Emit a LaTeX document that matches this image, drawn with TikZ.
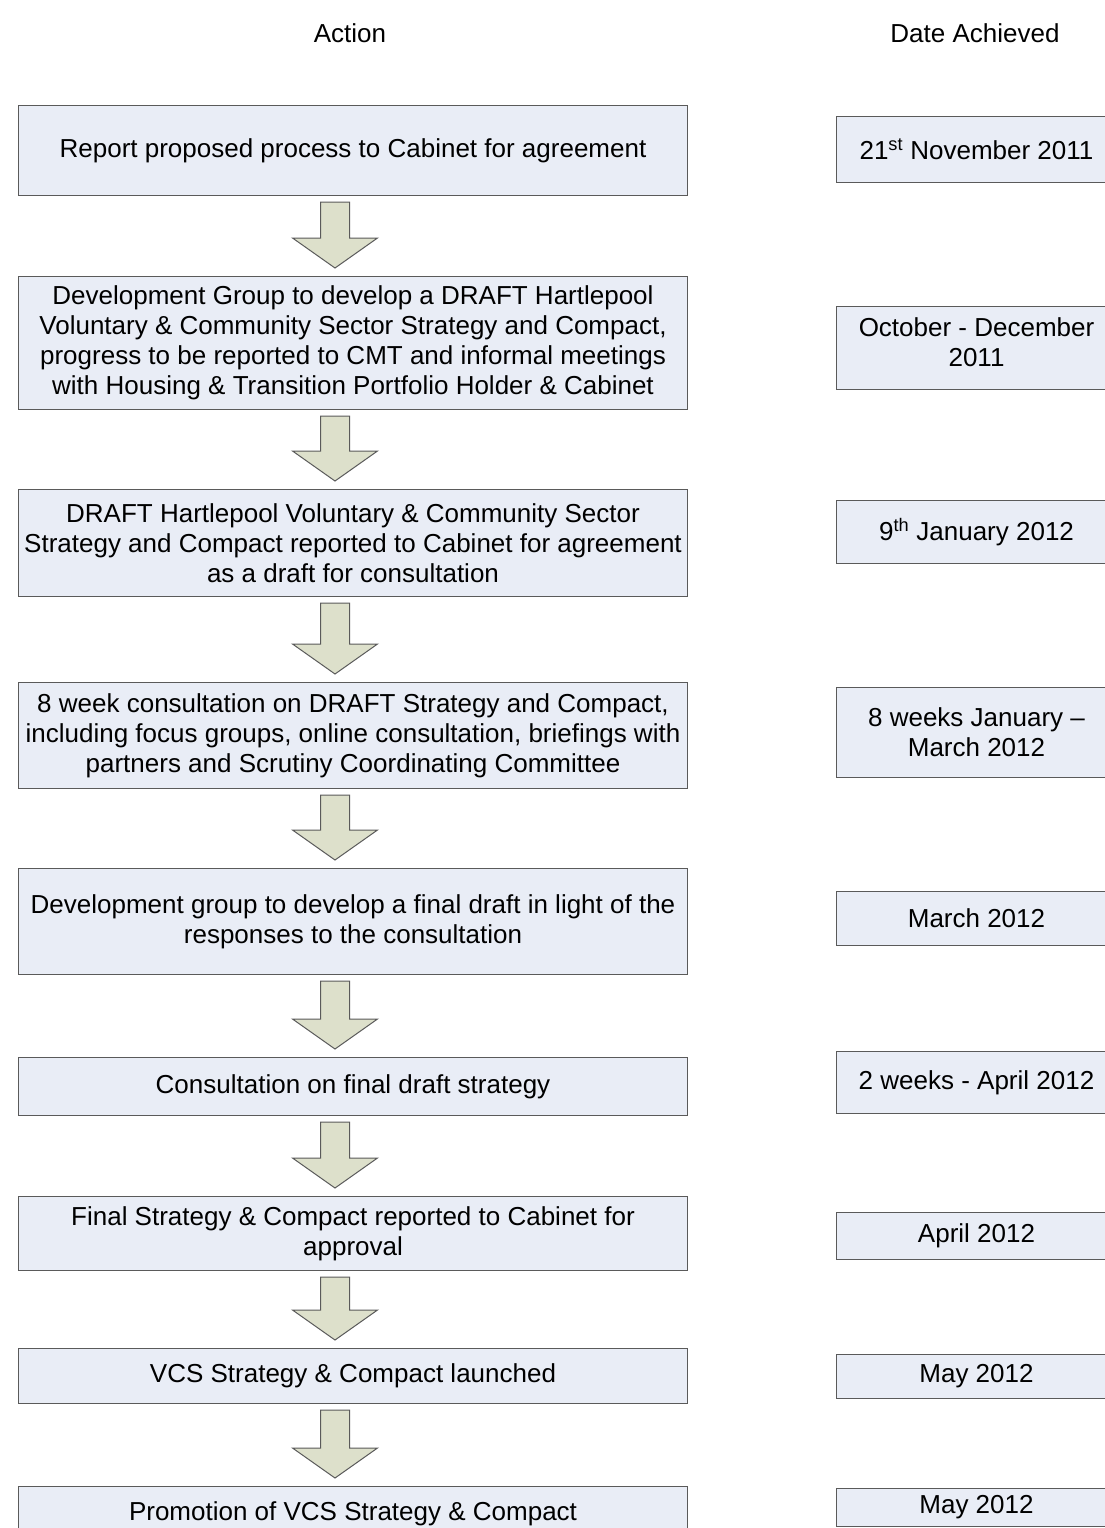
\documentclass[tikz,border=0pt]{standalone}
\usepackage{fontspec}
\setmainfont{Liberation Sans}
\usetikzlibrary{calc}
\definecolor{boxfill}{HTML}{E9EDF6}
\definecolor{arrowfill}{HTML}{DDE0CB}
\definecolor{edge}{HTML}{5A5A5A}
\tikzset{
  lbox/.style={draw=edge, line width=1pt, fill=boxfill, anchor=north west, minimum width=669pt,
    align=center, inner sep=0pt, font=\fontsize{26}{30}\selectfont},
  rbox/.style={draw=edge, line width=1pt, fill=boxfill, anchor=north west, minimum width=280pt,
    align=center, inner sep=0pt, font=\fontsize{26}{30}\selectfont},
  hdr/.style={font=\fontsize{26}{30}\selectfont, inner sep=0pt},
  barrow/.style={draw=edge, line width=1pt, fill=arrowfill, line join=miter}
}
\newcommand\blockarrow[2]{%
  \draw[barrow] ($(#1.south)+(-32.5,6)$) -- ($(#1.south)+(-3.5,6)$)
    -- ($(#2.north)+(-3.5,-38)$) -- ($(#2.north)+(24.5,-38)$)
    -- ($(#2.north)+(-18,-8)$) -- ($(#2.north)+(-60.5,-38)$)
    -- ($(#2.north)+(-32.5,-38)$) -- cycle;}
\begin{document}
\begin{tikzpicture}[x=1pt,y=-1pt]
\useasboundingbox (0,0) rectangle (1104,1528);
\node[hdr] (hA) at (350,33) {Action};
\node[hdr] (hD) at (975,33) {Date Achieved};
% left boxes
\node[lbox, minimum height=90pt] (a1) at (18,105) {Report proposed process to Cabinet for agreement};
\node[lbox, minimum height=133pt] (a2) at (18,276) {Development Group to develop a DRAFT Hartlepool\\Voluntary \& Community Sector Strategy and Compact,\\progress to be reported to CMT and informal meetings\\with Housing \& Transition Portfolio Holder \& Cabinet};
\node[lbox, minimum height=107pt] (a3) at (18,489) {DRAFT Hartlepool Voluntary \& Community Sector\\Strategy and Compact reported to Cabinet for agreement\\as a draft for consultation};
\node[lbox, minimum height=106pt] (a4) at (18,682) {8 week consultation on DRAFT Strategy and Compact,\\including focus groups, online consultation, briefings with\\partners and Scrutiny Coordinating Committee};
\node[lbox, minimum height=106pt] (a5) at (18,868) {Development group to develop a final draft in light of the\\responses to the consultation};
\node[lbox, minimum height=58pt] (a6) at (18,1057) {Consultation on final draft strategy};
\node[lbox, minimum height=74pt] (a7) at (18,1196) {Final Strategy \& Compact reported to Cabinet for\\approval};
\node[lbox, minimum height=55pt] (a8) at (18,1348) {VCS Strategy \& Compact launched};
\node[lbox, minimum height=54pt] (a9) at (18,1486) {Promotion of VCS Strategy \& Compact};
% right boxes
\node[rbox, minimum height=66pt] (d1) at (836,116) {21\textsuperscript{st} November 2011};
\node[rbox, minimum height=83pt, text depth=11pt] (d2) at (836,306) {October - December\\2011};
\node[rbox, minimum height=63pt] (d3) at (836,500) {9\textsuperscript{th} January 2012};
\node[rbox, minimum height=90pt] (d4) at (836,687) {8 weeks January –\\March 2012};
\node[rbox, minimum height=54pt] (d5) at (836,891) {March 2012};
\node[rbox, minimum height=62pt] (d6) at (836,1051) {2 weeks - April 2012};
\node[rbox, minimum height=47pt] (d7) at (836,1212) {April 2012};
\node[rbox, minimum height=44pt] (d8) at (836,1354) {May 2012};
\node[rbox, minimum height=38pt] (d9) at (836,1488) {May 2012};
% arrows
\blockarrow{a1}{a2}
\blockarrow{a2}{a3}
\blockarrow{a3}{a4}
\blockarrow{a4}{a5}
\blockarrow{a5}{a6}
\blockarrow{a6}{a7}
\blockarrow{a7}{a8}
\blockarrow{a8}{a9}
\end{tikzpicture}
\end{document}
